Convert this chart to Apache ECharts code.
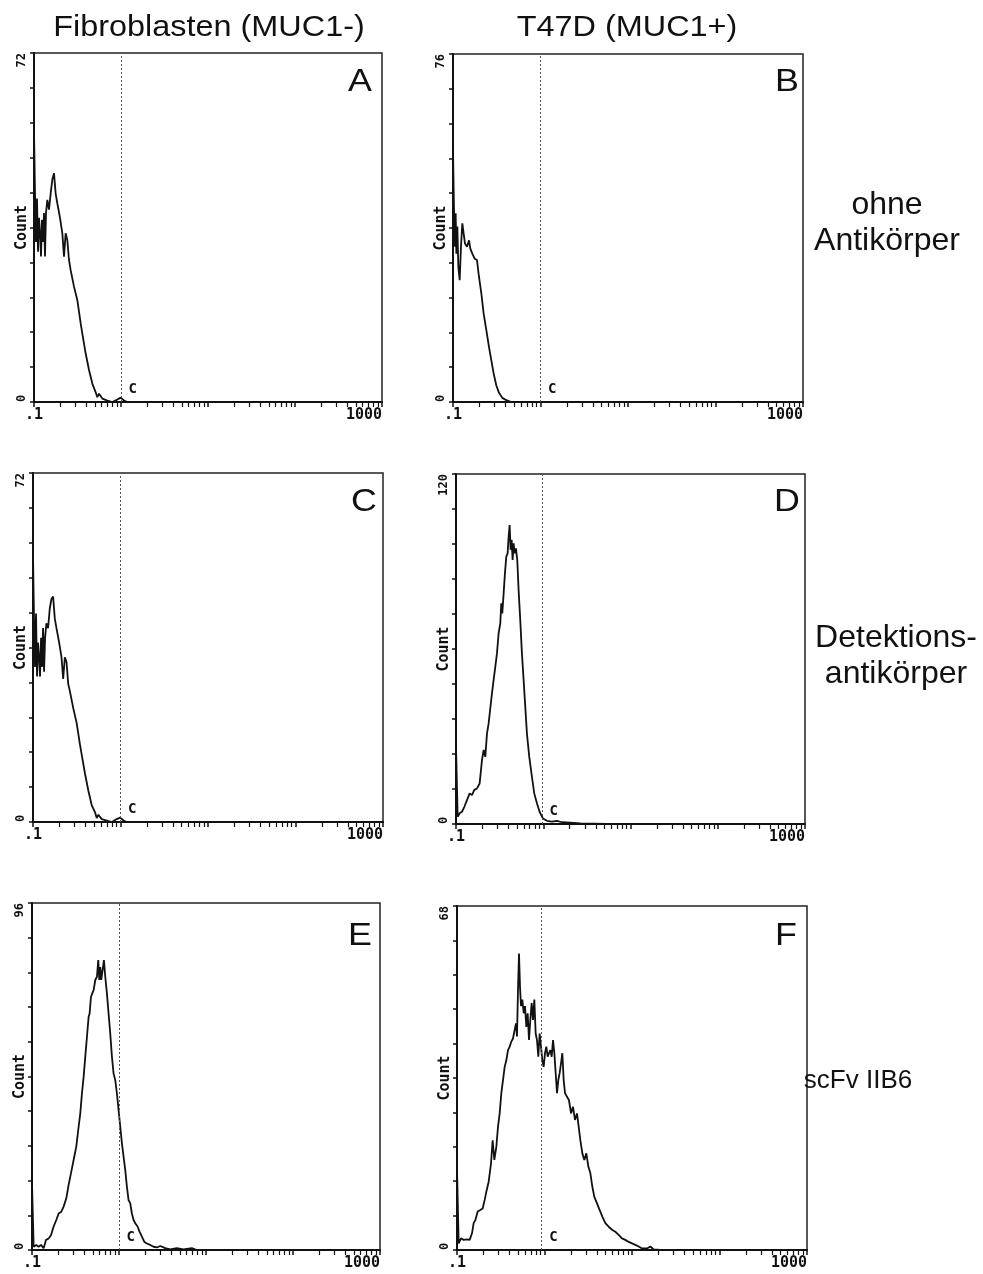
<!DOCTYPE html>
<html><head><meta charset="utf-8">
<script src="https://cdn.jsdelivr.net/npm/echarts@6/dist/echarts.min.js"></script>
<style>html,body{margin:0;padding:0;background:#fff}#c{width:983px;height:1274px}</style>
</head><body><div id="c"></div>
<script>
// ---- data ----
const panelLetters = ['A', 'B', 'C', 'D', 'E', 'F'];
const columnTitles = ['Fibroblasten (MUC1-)', 'T47D (MUC1+)'];
const rowTitles = ['ohne\nAntikörper', 'Detektions-\nantikörper', 'scFv IIB6'];
const yAxisName = 'Count';
const yMaxima = [72, 76, 72, 120, 96, 68];
const xTickLabels = ['.1', '1000'];
const gateValues = [1, 1, 1, 0.97, 1, 0.93];
const gateLabel = 'C';

const xA = [0.1, 0.1027, 0.1054, 0.1083, 0.1112, 0.1141, 0.1172, 0.1204, 0.1236, 0.1269, 0.1303, 0.1338, 0.1374, 0.1423, 0.1487, 0.1554, 0.1624, 0.1698, 0.1774, 0.1854, 0.199, 0.2117, 0.2212, 0.2312, 0.2416, 0.2525, 0.2639, 0.2883, 0.3149, 0.3439, 0.3594, 0.3926, 0.4288, 0.4684, 0.5116, 0.5346, 0.5587, 0.6102, 0.6965, 0.7951, 0.9077, 0.9913, 1.083, 1.182, 1000];
const yA = [56, 43, 33, 42, 31, 38, 35, 30, 37.6, 33, 39, 30, 39, 41.7, 39.7, 43, 45.9, 47.2, 43, 41, 38, 34.8, 30, 34.8, 33.4, 29.3, 27.2, 23.8, 21, 16.2, 14.1, 10, 6.6, 3.8, 2, 1, 1.7, 0.7, 0.3, 0, 0.5, 0.9, 0.3, 0, 0];

const xB = [0.1, 0.1027, 0.1054, 0.1073, 0.1092, 0.1121, 0.1151, 0.1192, 0.1234, 0.1278, 0.1324, 0.1371, 0.1445, 0.1524, 0.1578, 0.1663, 0.1768, 0.188, 0.1982, 0.2108, 0.2241, 0.2404, 0.2579, 0.2742, 0.2916, 0.3128, 0.3356, 0.3662, 0.4069, 0.4642, 1000];
const yB = [55, 41.9, 33.9, 41.2, 32.4, 38.3, 29.5, 26.6, 33.9, 39, 36.8, 34.6, 33.9, 35.3, 33.5, 32.4, 31.3, 31, 27.3, 23.7, 19.3, 15.7, 12, 9.1, 6.2, 3.6, 2, 0.9, 0.4, 0, 0];

const xC = [0.1, 0.1027, 0.1054, 0.1083, 0.1112, 0.1141, 0.1172, 0.1204, 0.1236, 0.1269, 0.1303, 0.1338, 0.1374, 0.1423, 0.1487, 0.1554, 0.1624, 0.1698, 0.1774, 0.1854, 0.199, 0.2117, 0.2212, 0.2312, 0.2416, 0.2525, 0.2639, 0.2883, 0.3149, 0.3439, 0.3594, 0.3926, 0.4288, 0.4684, 0.5116, 0.5346, 0.5587, 0.6102, 0.6965, 0.7951, 0.9077, 0.9913, 1.083, 1.182, 1000];
const yC = [55, 42, 32, 43, 30, 37, 34, 30, 38, 32, 40, 31, 38, 41, 40, 44, 46, 46.5, 42, 40, 37, 34, 29.5, 34, 33, 28.5, 27, 23.5, 20.5, 16, 14, 10, 6.5, 3.5, 2, 0.8, 1.5, 0.6, 0.3, 0, 0.6, 0.9, 0.3, 0, 0];

const xD = [0.1, 0.1045, 0.1102, 0.1171, 0.1246, 0.1336, 0.1434, 0.1525, 0.1621, 0.174, 0.1866, 0.1985, 0.2074, 0.2167, 0.2265, 0.2366, 0.2473, 0.2584, 0.27, 0.2821, 0.2948, 0.308, 0.3218, 0.3304, 0.3392, 0.3514, 0.364, 0.3771, 0.3905, 0.401, 0.4117, 0.4227, 0.4341, 0.4456, 0.4575, 0.4698, 0.4864, 0.5038, 0.5218, 0.5452, 0.5697, 0.5954, 0.6222, 0.6501, 0.6914, 0.7417, 0.7887, 0.8463, 0.9078, 0.9913, 1.101, 1.256, 1.434, 1.636, 2.038, 2.652, 3.77, 5.358, 1000];
const yD = [27, 2.5, 3.7, 4.2, 5.9, 8.2, 10.5, 9.9, 11.7, 12.2, 13.9, 21.9, 25.4, 23, 31, 34.5, 39.7, 44.8, 49.4, 53.9, 58.5, 65.4, 68.8, 75.7, 72.2, 79, 86, 91.7, 92.8, 98.5, 102.5, 94, 97.4, 90.5, 96.2, 92.8, 94.5, 90.5, 80.2, 69.9, 58.5, 49.4, 40.2, 31, 23, 16.2, 10.5, 7.1, 4.2, 1.9, 1.1, 0.8, 1.1, 0.6, 0.5, 0.2, 0.1, 0, 0];

const xE = [0.1, 0.1045, 0.1121, 0.1193, 0.1269, 0.1361, 0.1448, 0.1554, 0.1652, 0.1773, 0.1903, 0.2024, 0.2172, 0.231, 0.2479, 0.2636, 0.2804, 0.3009, 0.3229, 0.3435, 0.3589, 0.3751, 0.3921, 0.4098, 0.4282, 0.4475, 0.4595, 0.476, 0.4931, 0.5107, 0.5338, 0.5578, 0.5778, 0.5933, 0.6092, 0.6255, 0.6479, 0.6711, 0.6951, 0.7264, 0.7592, 0.7934, 0.8292, 0.8666, 0.9056, 0.9465, 0.9891, 1.034, 1.08, 1.129, 1.18, 1.233, 1.288, 1.347, 1.407, 1.471, 1.537, 1.635, 1.723, 1.834, 1.95, 2.092, 2.285, 2.496, 2.725, 2.977, 3.397, 3.877, 4.626, 5.516, 6.875, 7.848, 1000];
const yE = [18.4, 0.9, 1.4, 0.9, 1.4, 0.5, 2.8, 3.2, 4.1, 6.5, 8.3, 10.1, 10.6, 12, 14.3, 18, 21.2, 24.9, 28.6, 34.1, 37.8, 43.3, 47.9, 53.5, 59, 64.5, 65.4, 70, 71, 71.9, 74.7, 75.6, 80.2, 74.7, 78.3, 74.7, 77.4, 80.2, 75.6, 71, 65.4, 59.9, 53.5, 48.8, 47, 43.3, 38.7, 34.1, 29.5, 25.8, 22.1, 17.5, 13.8, 12.9, 10.1, 8.3, 7.4, 6.5, 5.1, 3.7, 2.3, 1.8, 1.4, 0.9, 0.7, 1.1, 0.5, 0.2, 0.5, 0.2, 0.5, 0, 0];

const xF = [0.1, 0.1045, 0.1111, 0.1192, 0.1301, 0.1396, 0.1484, 0.155, 0.162, 0.1723, 0.1848, 0.1965, 0.2071, 0.2164, 0.2301, 0.2447, 0.2556, 0.2671, 0.2816, 0.2942, 0.3074, 0.3211, 0.3356, 0.3506, 0.3663, 0.3827, 0.3999, 0.4178, 0.4365, 0.456, 0.4723, 0.4849, 0.4979, 0.5112, 0.5248, 0.5389, 0.5581, 0.578, 0.5986, 0.62, 0.6421, 0.665, 0.6887, 0.7133, 0.7387, 0.7651, 0.7924, 0.8206, 0.8499, 0.8802, 0.912, 0.9445, 0.9783, 1.013, 1.05, 1.087, 1.126, 1.166, 1.208, 1.251, 1.296, 1.342, 1.39, 1.439, 1.491, 1.544, 1.599, 1.656, 1.715, 1.808, 1.905, 2.009, 2.117, 2.232, 2.352, 2.458, 2.568, 2.707, 2.853, 3.007, 3.17, 3.341, 3.522, 3.712, 3.981, 4.272, 4.581, 4.958, 5.412, 5.908, 6.449, 7.04, 7.686, 8.389, 9.16, 10, 10.92, 11.92, 13.01, 14.84, 16.2, 17.69, 21.08, 1000];
const yF = [16.1, 1.3, 2.3, 2, 2.1, 2, 3.3, 5.3, 5.9, 7.6, 7.9, 8.2, 9.9, 11.5, 13.5, 17.1, 21.7, 17.8, 20.4, 24.4, 27, 31, 33.6, 36.2, 37.5, 39.5, 40.2, 41.2, 41.8, 43.5, 44.8, 42.2, 51.4, 58.6, 52.1, 48.2, 49.5, 46.8, 48.2, 44.1, 46.8, 41.5, 45.5, 48.8, 45.5, 49.5, 42.8, 41.5, 38.2, 42.8, 40.2, 37.5, 36.2, 38.9, 40.2, 38.2, 38.9, 39.5, 38.2, 41.5, 38.9, 35, 31, 33.6, 35, 36.9, 38.9, 33.6, 31, 30.3, 29.6, 27, 28.3, 25.7, 27, 24.4, 21.7, 19.1, 17.8, 19.1, 16.5, 15.2, 12.5, 10.5, 9.2, 7.9, 6.6, 5.3, 4.6, 4, 3.6, 3, 2.3, 2, 1.6, 1.3, 1, 0.7, 0.3, 0.3, 0.7, 0.1, 0, 0];

// ---- layout ----
const xs = [xA, xB, xC, xD, xE, xF];
const ys = [yA, yB, yC, yD, yE, yF];
const grids = [
  {left: 34, top: 53, width: 348, height: 349},
  {left: 453, top: 54, width: 350, height: 348},
  {left: 33, top: 473, width: 350, height: 349},
  {left: 456, top: 474, width: 349, height: 350},
  {left: 32, top: 903, width: 348, height: 347},
  {left: 457, top: 906, width: 350, height: 344}
];
const letterPos = [[360, 82], [787, 82], [364, 502], [787, 502], [360, 936], [786, 936]];
const colPos = [[209, 28], [627, 28]];
const rowPos = [[887, 223], [896, 656], [858, 1081]];
const rowFont = [32, 32, 26];

const mono = 'DejaVu Sans Mono';
const sans = 'Liberation Sans';
const black = '#111';

const option = {
  animation: false,
  backgroundColor: '#fff',
  grid: grids.map(g => Object.assign({show: true, borderColor: '#222', borderWidth: 1.5, backgroundColor: 'transparent'}, g)),
  xAxis: grids.map((g, i) => ({
    type: 'log', logBase: 10, min: 0.1, max: 1000, gridIndex: i,
    axisLine: {lineStyle: {color: black, width: 2}},
    axisTick: {length: 5, lineStyle: {color: black, width: 1.5}},
    minorTick: {show: true, splitNumber: 9, length: 5, lineStyle: {color: black, width: 1.2}},
    splitLine: {show: false}, minorSplitLine: {show: false},
    axisLabel: {
      formatter: v => Math.abs(v - 0.1) < 1e-9 ? xTickLabels[0] : (Math.abs(v - 1000) < 1e-6 ? xTickLabels[1] : ''),
      fontFamily: mono, fontWeight: 'bold', fontSize: 15, color: black, margin: 6,
      alignMaxLabel: 'right', alignMinLabel: 'center'
    }
  })),
  yAxis: grids.map((g, i) => ({
    type: 'value', min: 0, max: yMaxima[i], interval: yMaxima[i] / 10, gridIndex: i,
    name: yAxisName, nameLocation: 'middle', nameGap: 4, nameRotate: 90, nameMoveOverlap: false,
    nameTextStyle: {fontFamily: mono, fontWeight: 'bold', fontSize: 15, color: black},
    axisLine: {show: true, lineStyle: {color: black, width: 2}},
    axisTick: {show: true, length: 4, lineStyle: {color: black, width: 1.5}},
    splitLine: {show: false},
    axisLabel: {
      rotate: 90, margin: 6,
      formatter: v => (v === 0 || Math.abs(v - yMaxima[i]) < 1e-6) ? String(Math.round(v)) : '',
      fontFamily: mono, fontWeight: 'bold', fontSize: 12, color: black,
      alignMaxLabel: 'right', alignMinLabel: 'left'
    }
  })),
  series: xs.map((xv, i) => ({
    type: 'line', xAxisIndex: i, yAxisIndex: i,
    data: xv.map((x, k) => [x, ys[i][k]]),
    showSymbol: false, symbol: 'none',
    lineStyle: {color: black, width: 1.8},
    markLine: {
      silent: true, symbol: 'none',
      data: [{xAxis: gateValues[i]}],
      lineStyle: {type: [2, 2], color: '#555', width: 1},
      label: {show: false}
    },
    markPoint: {
      silent: true, symbol: 'circle', symbolSize: 1,
      itemStyle: {color: 'rgba(0,0,0,0)'},
      data: [{coord: [gateValues[i], 0]}],
      label: {show: true, formatter: gateLabel, position: 'right', offset: [2, -13],
        fontFamily: mono, fontWeight: 'bold', fontSize: 14, color: black}
    }
  })),
  graphic: [
    ...panelLetters.map((t, i) => ({type: 'text', x: letterPos[i][0], y: letterPos[i][1], scaleX: 1.12,
      style: {text: t, font: '32px "' + sans + '"', fill: '#111', textAlign: 'center', textVerticalAlign: 'middle'}})),
    ...columnTitles.map((t, i) => ({type: 'text', x: colPos[i][0], y: colPos[i][1], scaleX: 1.08,
      style: {text: t, font: '30px "' + sans + '"', fill: '#111', textAlign: 'center', textVerticalAlign: 'middle'}})),
    ...rowTitles.map((t, i) => ({type: 'text', x: rowPos[i][0], y: rowPos[i][1],
      style: {text: t, font: rowFont[i] + 'px "' + sans + '"', lineHeight: 36, fill: '#111', textAlign: 'center', textVerticalAlign: 'middle'}}))
  ]
};

const chart = echarts.init(document.getElementById('c'), null, {renderer: 'canvas'});
chart.setOption(option);
</script>
</body></html>
